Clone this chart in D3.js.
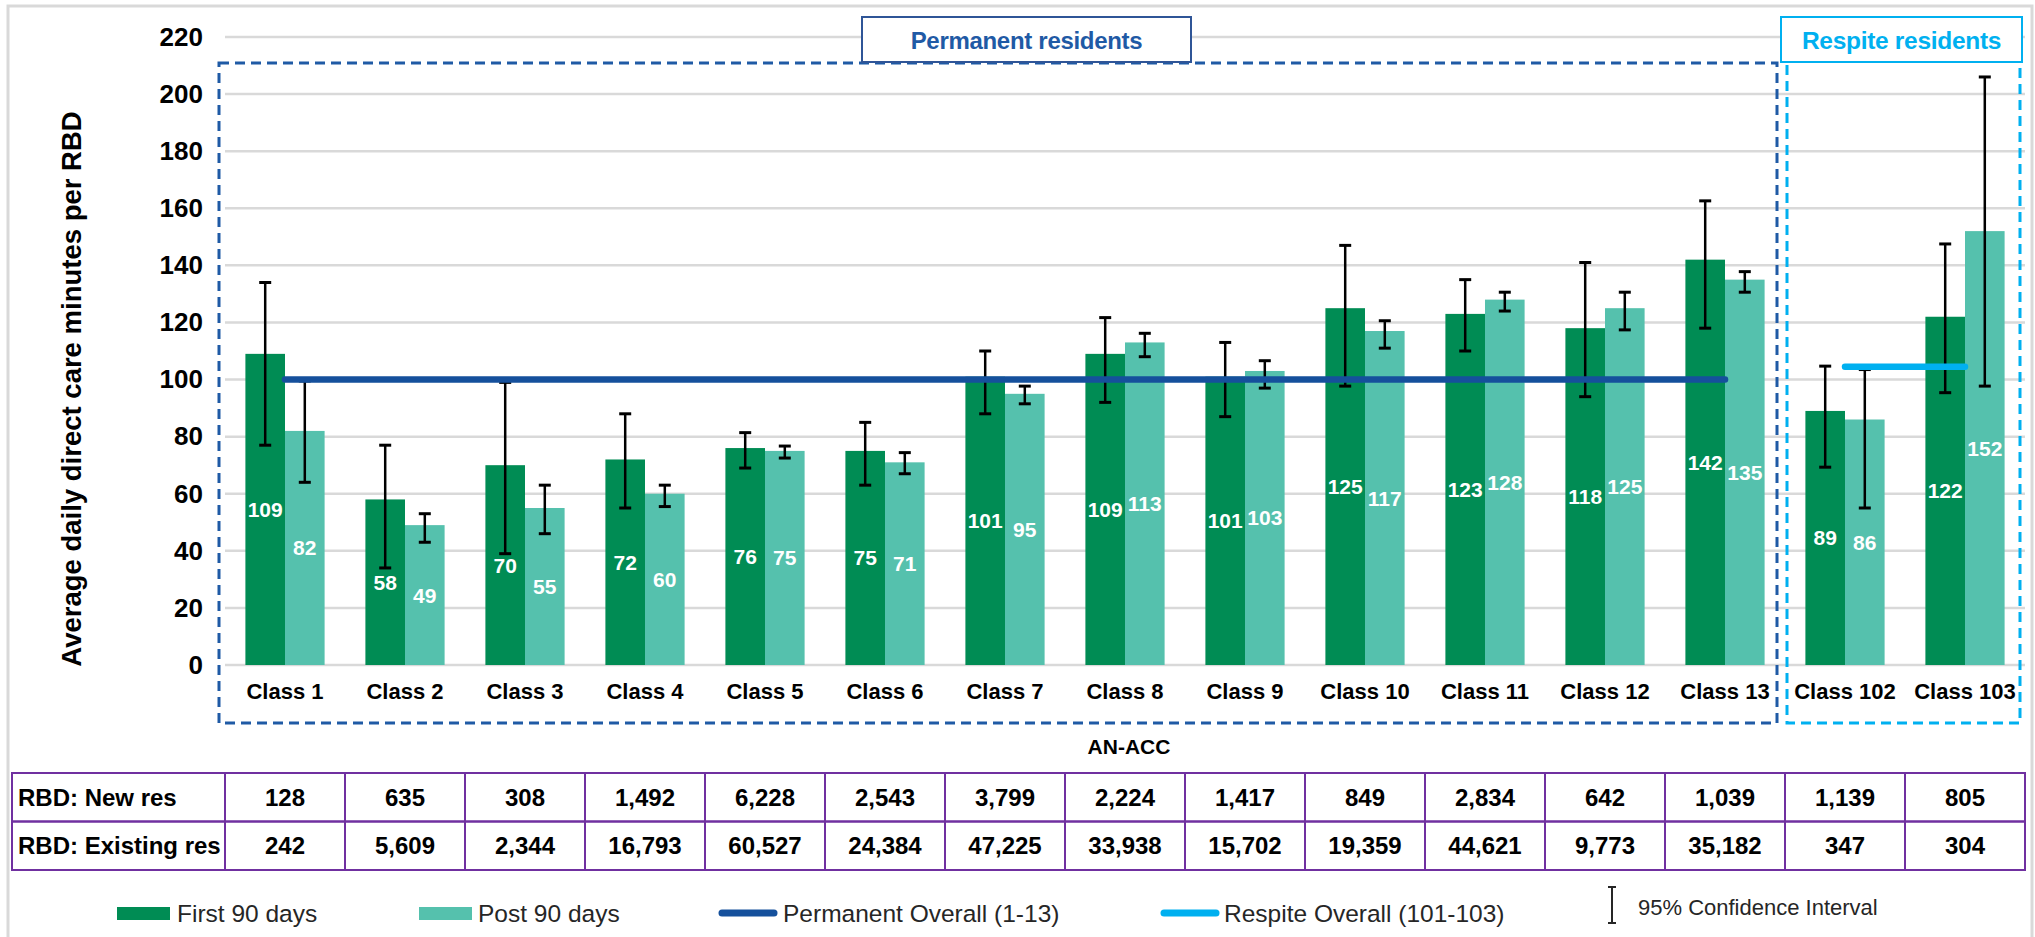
<!DOCTYPE html>
<html>
<head>
<meta charset="utf-8">
<script src="https://cdn.jsdelivr.net/npm/d3@7"></script>
<style>
  html, body { margin: 0; padding: 0; background: #fff; }
  svg { display: block; font-family: "Liberation Sans", Arial, sans-serif; }
</style>
</head>
<body>
<svg id="chart" width="2035" height="937"></svg>
<script>
// classes on the x axis
const classes = ['Class 1', 'Class 2', 'Class 3', 'Class 4', 'Class 5', 'Class 6', 'Class 7',
    'Class 8', 'Class 9', 'Class 10', 'Class 11', 'Class 12', 'Class 13', 'Class 102', 'Class 103']

// average daily direct care minutes per RBD
const first90 = [109, 58, 70, 72, 76, 75, 101, 109, 101, 125, 123, 118, 142, 89, 122]
const post90 = [82, 49, 55, 60, 75, 71, 95, 113, 103, 117, 128, 125, 135, 86, 152]

// 95% confidence intervals
const first90Low = [77, 34, 39, 55, 69, 63, 88, 92, 87, 97.7, 110, 94, 118, 69.3, 95.4]
const first90High = [134, 77, 99, 88, 81.4, 85, 110, 121.7, 113, 147, 135, 141, 162.6, 104.7, 147.5]
const post90Low = [64, 43, 46, 55.5, 72.5, 67, 91.5, 108, 97, 111, 124, 117.4, 130.6, 55, 97.7]
const post90High = [99.5, 53, 63, 63, 76.7, 74.4, 97.7, 116.2, 106.6, 120.6, 130.6, 130.6, 137.8, 103.5, 206]

// overall averages
const permanentOverall = 100
const respiteOverall = 104.5
const permanentClasses = classes.slice(0, 13)
const respiteClasses = classes.slice(13)

// table under the chart
const tableRows = ['RBD: New res', 'RBD: Existing res']
const newRes = ['128', '635', '308', '1,492', '6,228', '2,543', '3,799', '2,224', '1,417', '849',
    '2,834', '642', '1,039', '1,139', '805']
const existingRes = ['242', '5,609', '2,344', '16,793', '60,527', '24,384', '47,225', '33,938',
    '15,702', '19,359', '44,621', '9,773', '35,182', '347', '304']

const yTicks = [0, 20, 40, 60, 80, 100, 120, 140, 160, 180, 200, 220]

const colors = {
    first: '#008c54',
    post: '#55c1ad',
    permanent: '#15509c',
    respite: '#00b0f0',
    grid: '#d9d9d9',
    table: '#7030a0'
}

const svg = d3.select('#chart')
const plotLeft = 225, plotRight = 2025, plotTop = 37, plotBottom = 665

const x = d3.scaleBand()
    .domain(classes)
    .range([plotLeft, plotRight])
    .paddingInner(0.34)
    .paddingOuter(0.17)

const xSub = d3.scaleBand()
    .domain(['first', 'post'])
    .range([0, x.bandwidth()])

const col = d3.scaleBand()
    .domain(classes)
    .range([plotLeft, plotRight])

const y = d3.scaleLinear()
    .domain([0, 220])
    .range([plotBottom, plotTop])

const cx = c => x(c) + x.bandwidth() / 2

// outer frame
svg.append('rect')
    .attr('x', 8).attr('y', 6)
    .attr('width', 2024).attr('height', 960)
    .style('fill', 'none')
    .style('stroke', '#d9d9d9')
    .style('stroke-width', 3)

// grid
svg.append('g')
    .selectAll('line')
    .data(yTicks)
    .join('line')
    .attr('x1', plotLeft).attr('x2', plotRight)
    .attr('y1', d => y(d)).attr('y2', d => y(d))
    .style('stroke', colors.grid)
    .style('stroke-width', 2.5)

// y axis labels
const yAxis = svg.append('g')
    .attr('transform', `translate(${plotLeft - 22}, 0)`)
    .call(d3.axisLeft(y).tickValues(yTicks).tickSize(0).tickPadding(0))
yAxis.select('.domain').remove()
yAxis.selectAll('text')
    .style('font-size', '26px')
    .style('font-weight', 'bold')
    .style('fill', '#000')
    .style('font-family', '"Liberation Sans", Arial, sans-serif')

svg.append('text')
    .text('Average daily direct care minutes per RBD')
    .attr('transform', `translate(71, 389)rotate(-90)`)
    .style('text-anchor', 'middle')
    .style('dominant-baseline', 'central')
    .style('font-size', '27.5px')
    .style('font-weight', 'bold')
    .style('fill', '#000')

// x axis labels
const xAxis = svg.append('g')
    .attr('transform', `translate(0, ${plotBottom})`)
    .call(d3.axisBottom(x).tickSize(0).tickPadding(18))
xAxis.select('.domain').remove()
xAxis.selectAll('text')
    .style('font-size', '22px')
    .style('font-weight', 'bold')
    .style('fill', '#000')
    .style('font-family', '"Liberation Sans", Arial, sans-serif')

svg.append('text')
    .text('AN-ACC')
    .attr('x', 1129).attr('y', 746)
    .style('text-anchor', 'middle')
    .style('dominant-baseline', 'central')
    .style('font-size', '21px')
    .style('font-weight', 'bold')

// bars
const rows = classes.map((c, i) => ({
    cls: c,
    bars: [
        {key: 'first', value: first90[i], lo: first90Low[i], hi: first90High[i]},
        {key: 'post', value: post90[i], lo: post90Low[i], hi: post90High[i]}
    ]
}))

const groups = svg.append('g').attr('id', 'bars')
    .selectAll('g')
    .data(rows)
    .join('g')
    .attr('transform', d => `translate(${x(d.cls)}, 0)`)

groups.selectAll('rect')
    .data(d => d.bars)
    .join('rect')
    .attr('x', d => xSub(d.key))
    .attr('width', xSub.bandwidth())
    .attr('y', d => y(d.value))
    .attr('height', d => y(0) - y(d.value))
    .style('fill', d => colors[d.key])

groups.selectAll('text.values')
    .data(d => d.bars)
    .join('text')
    .classed('values', true)
    .text(d => d.value)
    .attr('x', d => xSub(d.key) + xSub.bandwidth() / 2)
    .attr('y', d => y(d.value / 2))
    .style('text-anchor', 'middle')
    .style('dominant-baseline', 'central')
    .style('font-size', '21px')
    .style('font-weight', 'bold')
    .style('fill', '#fff')

// error bars
const err = groups.selectAll('g.err')
    .data(d => d.bars)
    .join('g')
    .classed('err', true)
    .attr('transform', d => `translate(${xSub(d.key) + xSub.bandwidth() / 2}, 0)`)
    .style('stroke', '#000')

err.append('line')
    .attr('y1', d => y(d.lo)).attr('y2', d => y(d.hi))
    .style('stroke-width', 2.5)
err.selectAll('line.cap')
    .data(d => [d.lo, d.hi])
    .join('line')
    .classed('cap', true)
    .attr('x1', -6).attr('x2', 6)
    .attr('y1', d => y(d)).attr('y2', d => y(d))
    .style('stroke-width', 3)

// overall lines
svg.append('line')
    .attr('x1', cx(permanentClasses[0])).attr('x2', cx(permanentClasses[permanentClasses.length - 1]))
    .attr('y1', y(permanentOverall)).attr('y2', y(permanentOverall))
    .style('stroke', colors.permanent)
    .style('stroke-width', 6.5)
    .style('stroke-linecap', 'round')

svg.append('line')
    .attr('x1', cx(respiteClasses[0])).attr('x2', cx(respiteClasses[respiteClasses.length - 1]))
    .attr('y1', y(respiteOverall)).attr('y2', y(respiteOverall))
    .style('stroke', colors.respite)
    .style('stroke-width', 6.5)
    .style('stroke-linecap', 'round')

// dashed group boxes
const permX0 = col(permanentClasses[0]) - 6
const permX1 = col(permanentClasses[12]) + col.bandwidth() - 8
svg.append('rect')
    .attr('x', permX0).attr('y', 63)
    .attr('width', permX1 - permX0)
    .attr('height', 660)
    .style('fill', 'none')
    .style('stroke', '#1f5aa5')
    .style('stroke-width', 3)
    .style('stroke-dasharray', '10,6')

const respX0 = col(respiteClasses[0]) + 2
svg.append('rect')
    .attr('x', respX0).attr('y', 61)
    .attr('width', plotRight - 5 - respX0)
    .attr('height', 662)
    .style('fill', 'none')
    .style('stroke', colors.respite)
    .style('stroke-width', 3)
    .style('stroke-dasharray', '10,6')

// group titles
function titleBox(x0, x1, label, color, border, size) {
    svg.append('rect')
        .attr('x', x0).attr('y', 17)
        .attr('width', x1 - x0).attr('height', 45)
        .style('fill', '#fff')
        .style('stroke', border)
        .style('stroke-width', 2)
    svg.append('text')
        .text(label)
        .attr('x', (x0 + x1) / 2).attr('y', 40)
        .style('text-anchor', 'middle')
        .style('dominant-baseline', 'central')
        .style('font-size', size + 'px')
        .style('font-weight', 'bold')
        .style('letter-spacing', '-0.3px')
        .style('fill', color)
}
titleBox(862, 1191, 'Permanent residents', '#1f5aa5', '#2f5597', 24)
titleBox(1781, 2022, 'Respite residents', colors.respite, colors.respite, 24.5)

// table
const tableTop = 773, rowH = 48.5
const table = svg.append('g').attr('id', 'table')
const tableData = [newRes, existingRes]

tableData.forEach((vals, r) => {
    const ty = tableTop + r * rowH
    table.append('rect')
        .attr('x', 12).attr('y', ty)
        .attr('width', plotLeft - 12).attr('height', rowH)
        .style('fill', 'none').style('stroke', colors.table).style('stroke-width', 2)
    table.append('text')
        .text(tableRows[r])
        .attr('x', 18).attr('y', ty + rowH / 2)
        .style('dominant-baseline', 'central')
        .style('font-size', '24px')
        .style('font-weight', 'bold')
    table.selectAll(null)
        .data(vals)
        .join('rect')
        .attr('x', (d, i) => col(classes[i])).attr('y', ty)
        .attr('width', col.bandwidth()).attr('height', rowH)
        .style('fill', 'none').style('stroke', colors.table).style('stroke-width', 2)
    table.selectAll(null)
        .data(vals)
        .join('text')
        .text(d => d)
        .attr('x', (d, i) => col(classes[i]) + col.bandwidth() / 2).attr('y', ty + rowH / 2)
        .style('text-anchor', 'middle')
        .style('dominant-baseline', 'central')
        .style('font-size', '24px')
        .style('font-weight', 'bold')
})

// legend
const legend = svg.append('g').attr('id', 'legend').style('fill', '#262626')
const legendText = (x0, label, size, ty) => legend.append('text')
    .text(label)
    .attr('x', x0).attr('y', ty)
    .style('dominant-baseline', 'central')
    .style('font-size', size + 'px')

legend.append('rect').attr('x', 117).attr('y', 907).attr('width', 53).attr('height', 13).style('fill', colors.first)
legendText(177, 'First 90 days', 24.5, 913)
legend.append('rect').attr('x', 419).attr('y', 907).attr('width', 53).attr('height', 13).style('fill', colors.post)
legendText(478, 'Post 90 days', 24.5, 913)
legend.append('line').attr('x1', 722).attr('x2', 774).attr('y1', 913).attr('y2', 913)
    .style('stroke', colors.permanent).style('stroke-width', 7).style('stroke-linecap', 'round')
legendText(783, 'Permanent Overall (1-13)', 24.5, 913)
legend.append('line').attr('x1', 1164).attr('x2', 1216).attr('y1', 913).attr('y2', 913)
    .style('stroke', colors.respite).style('stroke-width', 7).style('stroke-linecap', 'round')
legendText(1224, 'Respite Overall (101-103)', 24.5, 913)

const ci = legend.append('g').style('stroke', '#262626')
ci.append('line').attr('x1', 1612).attr('x2', 1612).attr('y1', 887).attr('y2', 923).style('stroke-width', 2)
ci.append('line').attr('x1', 1608).attr('x2', 1616).attr('y1', 887).attr('y2', 887).style('stroke-width', 2)
ci.append('line').attr('x1', 1608).attr('x2', 1616).attr('y1', 923).attr('y2', 923).style('stroke-width', 2)
legendText(1638, '95% Confidence Interval', 22, 907)
</script>
</body>
</html>
